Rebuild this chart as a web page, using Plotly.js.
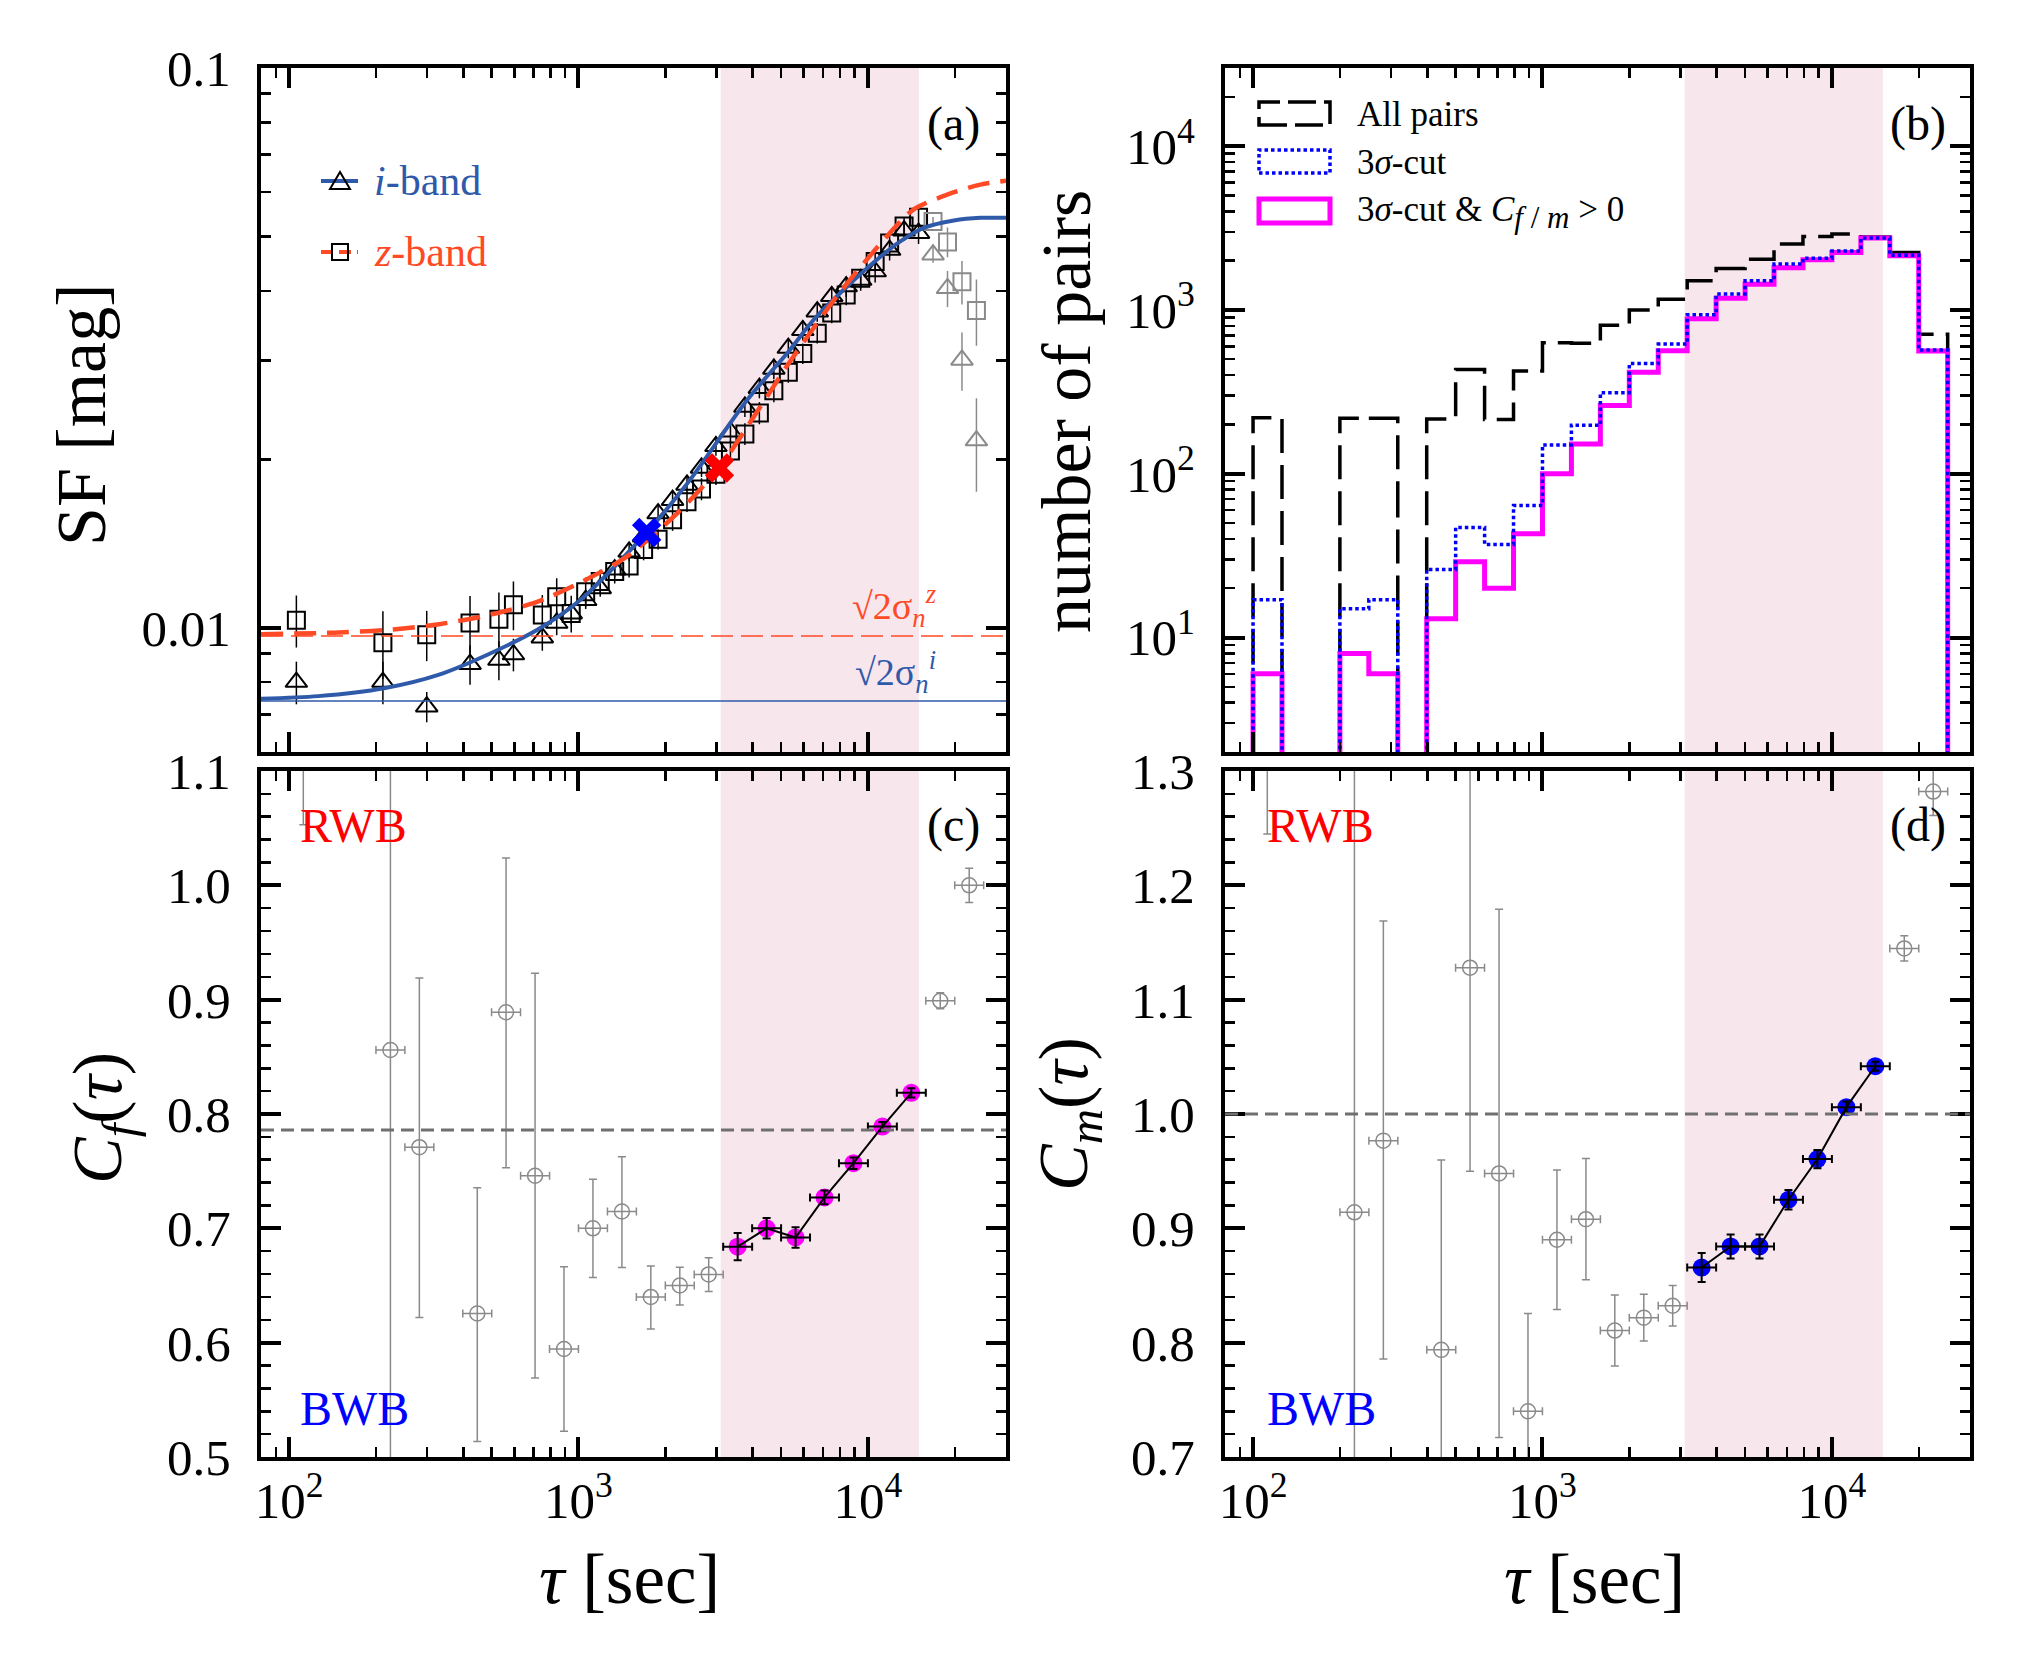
<!DOCTYPE html>
<html><head><meta charset="utf-8">
<script src="https://cdn.plot.ly/plotly-3.0.1.min.js"></script>
<style>body{margin:0;background:#fff}#chart{width:2020px;height:1670px}</style>
</head><body><div id="chart"></div>
<script>
// ================= DATA =================
// Panel (a): structure function
const sfTau = [106,211,299,422,531,596,750,841,944,1059,1189,1334,1496,1679,1884,2114,2371,2661,2985,3350,3758,4217,4732,5309,5957,6683,7499,8414,9441,10593,11885,13335,14962];
const sfI = [0.0080,0.0080,0.00723,0.00861,0.00876,0.00896,0.0096,0.0102,0.0106,0.0112,0.01176,0.0127,0.01367,0.01455,0.0160,0.0169,0.0180,0.0193,0.0211,0.0224,0.0248,0.0268,0.0290,0.0316,0.0340,0.0367,0.0391,0.0407,0.0418,0.0433,0.0473,0.0512,0.0507];
const sfIErr = [0.0007,0.0007,0.00045,0.0007,0.0007,0.0006,0.0005,0.0005,0.00045,0.0004,0.0004,0.0004,0.0005,0.0005,0.0005,0.0006,0.0006,0.0007,0.0008,0.0009,0.001,0.0011,0.0012,0.0013,0.0014,0.0015,0.0016,0.0017,0.0018,0.0019,0.002,0.0021,0.0022];
const sfZ = [0.01032,0.0094,0.00972,0.0102,0.01036,0.0110,0.01054,0.01136,0.01061,0.0116,0.0121,0.0126,0.0129,0.0138,0.0144,0.0156,0.0168,0.0177,0.0188,0.0207,0.0222,0.0242,0.0265,0.0286,0.0309,0.0336,0.0365,0.0393,0.0421,0.0451,0.0487,0.0522,0.0541];
const sfZErr = [0.0011,0.0013,0.0010,0.0012,0.0012,0.0011,0.0009,0.0009,0.0008,0.0007,0.0006,0.0006,0.0006,0.0006,0.0006,0.0007,0.0007,0.0008,0.0008,0.0009,0.0010,0.0011,0.0012,0.0012,0.0013,0.0014,0.0015,0.0016,0.0017,0.0018,0.0019,0.0020,0.0021];
const sfTauOut = [16788,18836,21135,23714];
const sfIOut = [0.0464,0.0404,0.0301,0.0216];
const sfIOutErr = [0.0015,0.003,0.0036,0.0041];
const sfZOut = [0.0532,0.0489,0.0415,0.0369];
const sfZOutErr = [0.001,0.003,0.0037,0.005];
const modelTauI = [80,126,213,330,491,731,1012,1714,2415,3819,5358,6494,8472,11041,12942,15596,19815,24491,30000];
const modelSFI = [0.00747,0.00755,0.0078,0.00825,0.00898,0.00996,0.0112,0.01478,0.0183,0.0255,0.0313,0.0355,0.0407,0.0460,0.0490,0.0518,0.0534,0.0540,0.0540];
const modelTauZ = [80,149,222,330,491,731,1089,1469,2188,3055,4246,5358,7962,11858,14322,18793,24491,30000];
const modelSFZ = [0.00974,0.00981,0.00992,0.01015,0.01054,0.01116,0.01227,0.0134,0.0160,0.0193,0.0248,0.0298,0.0396,0.0506,0.0558,0.0594,0.0619,0.0629];
const noiseSFI = 0.0074;
const noiseSFZ = 0.00967;
const crossTauI = [1720], crossSFI = [0.0148];
const crossTauZ = [3070], crossSFZ = [0.0193];
const shadeTau = [3100, 15000];

// Panel (b): histogram of pairs (bin centres in log10 tau, 0.1 dex bins)
const histLogCenters = [2.05,2.15,2.25,2.35,2.45,2.55,2.65,2.75,2.85,2.95,3.05,3.15,3.25,3.35,3.45,3.55,3.65,3.75,3.85,3.95,4.05,4.15,4.25,4.35];
const histAll    = [220,null,null,218,218,null,216,433,214,424,631,625,805,1000,1162,1505,1791,2042,2523,2812,2905,2790,2244,710];
const histCut    = [17,null,null,15,17,null,26,47,37,64,150,198,312,471,619,936,1253,1505,1905,2070,2286,2748,2160,569];
const histCutPos = [6,null,null,8,6,null,13,29,20,43,100,152,261,417,563,885,1179,1436,1808,2023,2244,2748,2143,561];
const histBinHalfDex = 0.05;

// Panels (c),(d): colour-variability indices
const cTauGray = [112,224,282,447,562,708,891,1122,1413,1778,2239,2818,17783,22387];
const cTauSel  = [3548,4467,5623,7079,8913,11220,14125];
const cfGray = [1.25,0.856,0.771,0.6255,0.889,0.746,0.5945,0.700,0.7147,0.640,0.650,0.6597,0.899,1.000];
const cfGrayErrP = [0.2,0.5,0.148,0.11,0.135,0.177,0.072,0.043,0.048,0.027,0.016,0.0145,0.007,0.015];
const cfGrayErrM = [0.197,0.5,0.149,0.112,0.136,0.177,0.072,0.043,0.049,0.028,0.017,0.015,0.007,0.015];
const cfSel = [0.684,0.700,0.692,0.727,0.757,0.789,0.8185];
const cfSelErr = [0.012,0.009,0.009,0.006,0.005,0.004,0.004];
const cmGray = [1.45,0.914,0.9767,0.7937,1.128,0.948,0.740,0.890,0.908,0.8106,0.8219,0.8323,1.1448,1.282];
const cmGrayErrP = [0.2,0.6,0.192,0.166,0.18,0.231,0.0855,0.061,0.053,0.031,0.0205,0.0177,0.011,0.021];
const cmGrayErrM = [0.205,0.6,0.191,0.166,0.178,0.231,0.0855,0.061,0.053,0.031,0.0205,0.0177,0.011,0.021];
const cmSel = [0.8657,0.8842,0.8842,0.925,0.9606,1.006,1.0418];
const cmSelErr = [0.0127,0.0105,0.0105,0.0085,0.008,0.005,0.004];
const cfMean = 0.786;
const cmMean = 1.0;
const cBinHalfDex = 0.05;

// tick labels
const xTickVals = [100,1000,10000];
const xTickText = ['10<sup>2</sup>','10<sup>3</sup>','10<sup>4</sup>'];
const xMinor = [90,200,300,400,500,600,700,800,900,2000,3000,4000,5000,6000,7000,8000,9000,20000];
const sfTickVals = [0.01,0.1];
const sfTickText = ['0.01','0.1'];
const sfMinor = [0.007,0.008,0.009,0.02,0.03,0.04,0.05,0.06,0.07,0.08,0.09];
const nTickVals = [10,100,1000,10000];
const nTickText = ['10<sup>1</sup>','10<sup>2</sup>','10<sup>3</sup>','10<sup>4</sup>'];
const nMinor = [3,4,5,6,7,8,9,20,30,40,50,60,70,80,90,200,300,400,500,600,700,800,900,2000,3000,4000,5000,6000,7000,8000,9000,20000];

// ================= STYLE / LAYOUT =================
const W = 2020, H = 1670;
const FONT = 'Liberation Serif, Times New Roman, serif';
const BLUE = '#2f5aaa', RED = '#ff4a26', GRAY = '#8a8a8a', SHADE = '#f8e6ed';
const PX = x => x / W, PY = y => 1 - y / H;
const TICKFONT = 51;

const dom = {
  xa: [PX(261), PX(1006)], xb: [PX(1225), PX(1970)],
  yt: [PY(752), PY(68)], yb: [PY(1457), PY(771)]
};

function xAxis(domain, anchor, labels) {
  return {type:'log', domain, anchor, range:[Math.log10(80), Math.log10(30000)],
    tickmode:'array', tickvals:xTickVals, ticktext:xTickText, showticklabels:labels,
    ticks:'inside', ticklen:20, tickwidth:4, tickcolor:'#000',
    minor:{tickmode:'array', tickvals:xMinor, ticks:'inside', ticklen:10, tickwidth:2.5, tickcolor:'#000'},
    showline:true, linewidth:4, linecolor:'#000', mirror:'ticks', showgrid:false, zeroline:false,
    tickfont:{family:FONT, size:TICKFONT, color:'#000'}, ticklabelstandoff:-4};
}
function yBase(domain, anchor) {
  return {domain, anchor, ticks:'inside', ticklen:20, tickwidth:4, tickcolor:'#000',
    showline:true, linewidth:4, linecolor:'#000', mirror:'ticks', showgrid:false, zeroline:false,
    tickfont:{family:FONT, size:TICKFONT, color:'#000'}, ticklabelstandoff:16};
}

// step-histogram builder
function steps(centers, counts, half, floor) {
  const xs = [], ys = [];
  let i = 0;
  while (i < counts.length) {
    if (counts[i] == null) { i++; continue; }
    let j = i; while (j < counts.length && counts[j] != null) j++;
    xs.push(Math.pow(10, centers[i] - half)); ys.push(floor);
    for (let k = i; k < j; k++) { xs.push(Math.pow(10, centers[k] - half)); ys.push(counts[k]); }
    xs.push(Math.pow(10, centers[j - 1] + half)); ys.push(floor);
    xs.push(null); ys.push(null);
    i = j;
  }
  return {xs, ys};
}
const errPlus = (xs, h) => xs.map(v => v * (Math.pow(10, h) - 1));
const errMinus = (xs, h) => xs.map(v => v * (1 - Math.pow(10, -h)));

const traces = [];
// ---- (a)
traces.push({x:sfTau, y:sfZ, xaxis:'x', yaxis:'y', mode:'markers', type:'scatter',
  marker:{symbol:'square-open', size:17, color:'#000', line:{width:2, color:'#000'}},
  error_y:{type:'data', array:sfZErr, color:'#000', thickness:1.5, width:0}});
traces.push({x:sfTau, y:sfI, xaxis:'x', yaxis:'y', mode:'markers', type:'scatter',
  marker:{symbol:'triangle-up-open', size:19, color:'#000', line:{width:2, color:'#000'}},
  error_y:{type:'data', array:sfIErr, color:'#000', thickness:1.5, width:0}});
traces.push({x:sfTauOut, y:sfZOut, xaxis:'x', yaxis:'y', mode:'markers', type:'scatter',
  marker:{symbol:'square-open', size:17, color:GRAY, line:{width:2, color:GRAY}},
  error_y:{type:'data', array:sfZOutErr, color:GRAY, thickness:1.5, width:0}});
traces.push({x:sfTauOut, y:sfIOut, xaxis:'x', yaxis:'y', mode:'markers', type:'scatter',
  marker:{symbol:'triangle-up-open', size:19, color:GRAY, line:{width:2, color:GRAY}},
  error_y:{type:'data', array:sfIOutErr, color:GRAY, thickness:1.5, width:0}});
traces.push({x:modelTauI, y:modelSFI, xaxis:'x', yaxis:'y', mode:'lines', type:'scatter',
  line:{color:BLUE, width:4, shape:'spline', smoothing:0.8}});
traces.push({x:modelTauZ, y:modelSFZ, xaxis:'x', yaxis:'y', mode:'lines', type:'scatter',
  line:{color:RED, width:4.5, shape:'spline', smoothing:0.8, dash:'22px,11px'}});
traces.push({x:crossTauI, y:crossSFI, xaxis:'x', yaxis:'y', mode:'markers', type:'scatter',
  marker:{symbol:'x', size:26, color:'#0000ff'}});
traces.push({x:crossTauZ, y:crossSFZ, xaxis:'x', yaxis:'y', mode:'markers', type:'scatter',
  marker:{symbol:'x', size:26, color:'#ff0000'}});

// ---- (b)
const sAll = steps(histLogCenters, histAll, histBinHalfDex, 1);
const sCut = steps(histLogCenters, histCut, histBinHalfDex, 1);
const sPos = steps(histLogCenters, histCutPos, histBinHalfDex, 1);
traces.push({x:sAll.xs, y:sAll.ys, xaxis:'x2', yaxis:'y2', mode:'lines', type:'scatter',
  line:{shape:'hv', color:'#000', width:3.5, dash:'34px,12px'}, connectgaps:false});
traces.push({x:sPos.xs, y:sPos.ys, xaxis:'x2', yaxis:'y2', mode:'lines', type:'scatter',
  line:{shape:'hv', color:'#ff00ff', width:5}, connectgaps:false});
traces.push({x:sCut.xs, y:sCut.ys, xaxis:'x2', yaxis:'y2', mode:'lines', type:'scatter',
  line:{shape:'hv', color:'#0000ff', width:3.5, dash:'3.5px,3px'}, connectgaps:false});

// ---- (c),(d)
function cPanel(xa, ya, gy, gp, gm, sy, se, col) {
  traces.push({x:cTauGray, y:gy, xaxis:xa, yaxis:ya, mode:'markers', type:'scatter',
    marker:{symbol:'circle-open', size:15, color:GRAY, line:{width:1.5, color:GRAY}},
    error_y:{type:'data', array:gp, arrayminus:gm, color:GRAY, thickness:1.5, width:4},
    error_x:{type:'data', array:errPlus(cTauGray, cBinHalfDex), arrayminus:errMinus(cTauGray, cBinHalfDex), color:GRAY, thickness:1.5, width:4}});
  traces.push({x:cTauSel, y:sy, xaxis:xa, yaxis:ya, mode:'markers', type:'scatter',
    marker:{symbol:'circle', size:18, color:col}});
  traces.push({x:cTauSel, y:sy, xaxis:xa, yaxis:ya, mode:'lines', type:'scatter',
    line:{color:'#000', width:2},
    error_y:{type:'data', array:se, color:'#000', thickness:2, width:4},
    error_x:{type:'data', array:errPlus(cTauSel, cBinHalfDex), arrayminus:errMinus(cTauSel, cBinHalfDex), color:'#000', thickness:2, width:4}});
}
cPanel('x3','y3', cfGray, cfGrayErrP, cfGrayErrM, cfSel, cfSelErr, '#ff00ff');
cPanel('x4','y4', cmGray, cmGrayErrP, cmGrayErrM, cmSel, cmSelErr, '#0000ff');

// ---- shapes
const shapes = [];
[['x','y'],['x2','y2'],['x3','y3'],['x4','y4']].forEach(([xa,ya]) => {
  shapes.push({type:'rect', xref:xa, yref:ya+' domain', x0:shadeTau[0], x1:shadeTau[1], y0:0, y1:1,
    fillcolor:SHADE, line:{width:0}, layer:'below'});
});
shapes.push({type:'line', xref:'x domain', yref:'y', x0:0, x1:1, y0:noiseSFZ, y1:noiseSFZ, line:{color:RED, width:1.6, dash:'22px,8px'}});
shapes.push({type:'line', xref:'x domain', yref:'y', x0:0, x1:1, y0:noiseSFI, y1:noiseSFI, line:{color:BLUE, width:1.6}});
shapes.push({type:'line', xref:'x3 domain', yref:'y3', x0:0, x1:1, y0:cfMean, y1:cfMean, line:{color:'#707070', width:3, dash:'13px,7px'}});
shapes.push({type:'line', xref:'x4 domain', yref:'y4', x0:0, x1:1, y0:cmMean, y1:cmMean, line:{color:'#707070', width:3, dash:'13px,7px'}});

// legend (a) symbols
shapes.push({type:'line', xref:'paper', yref:'paper', x0:PX(321), x1:PX(358), y0:PY(181), y1:PY(181), line:{color:BLUE, width:4}});
shapes.push({type:'path', xref:'paper', yref:'paper',
  path:`M${PX(330)},${PY(189)} L${PX(350)},${PY(189)} L${PX(340)},${PY(172)} Z`, line:{color:'#000', width:2}});
shapes.push({type:'line', xref:'paper', yref:'paper', x0:PX(321), x1:PX(358), y0:PY(252), y1:PY(252), line:{color:RED, width:4, dash:'12px,6px'}});
shapes.push({type:'rect', xref:'paper', yref:'paper', x0:PX(332), x1:PX(348), y0:PY(260), y1:PY(244), line:{color:'#000', width:2}, fillcolor:'rgba(0,0,0,0)'});
// legend (b) boxes
shapes.push({type:'rect', xref:'paper', yref:'paper', x0:PX(1259), x1:PX(1330), y0:PY(125), y1:PY(102), line:{color:'#000', width:3.5, dash:'28px,8px'}});
shapes.push({type:'rect', xref:'paper', yref:'paper', x0:PX(1259), x1:PX(1330), y0:PY(173), y1:PY(150), line:{color:'#0000ff', width:3.5, dash:'3.5px,3px'}});
shapes.push({type:'rect', xref:'paper', yref:'paper', x0:PX(1259), x1:PX(1330), y0:PY(223), y1:PY(199), line:{color:'#ff00ff', width:5}});

// ---- annotations
const ann = [];
function A(text, x, y, size, opts) {
  ann.push(Object.assign({text, xref:'paper', yref:'paper', x:PX(x), y:PY(y), showarrow:false,
    xanchor:'center', yanchor:'middle', font:{family:FONT, size, color:'#000'}}, opts || {}));
}
A('SF [mag]', 81, 415, 70, {textangle:-90});
A('number of pairs', 1067, 412, 70, {textangle:-90});
A('<i>C<sub>f</sub></i>(<i>τ</i>)', 103, 1118, 70, {textangle:-90});
A('<i>C<sub>m</sub></i>(<i>τ</i>)', 1069, 1114, 70, {textangle:-90});
A('<i>τ</i> [sec]', 629, 1579, 71);
A('<i>τ</i> [sec]', 1594, 1579, 71);
A('(a)', 982, 124, 48, {xanchor:'right'});
A('(b)', 1948, 124, 48, {xanchor:'right'});
A('(c)', 982, 825, 48, {xanchor:'right'});
A('(d)', 1948, 825, 48, {xanchor:'right'});
A('RWB', 298, 825, 48, {xanchor:'left', font:{family:FONT, size:48, color:'#ff0000'}});
A('BWB', 298, 1408, 48, {xanchor:'left', font:{family:FONT, size:48, color:'#0000ff'}});
A('RWB', 1265, 825, 48, {xanchor:'left', font:{family:FONT, size:48, color:'#ff0000'}});
A('BWB', 1265, 1408, 48, {xanchor:'left', font:{family:FONT, size:48, color:'#0000ff'}});
A('<i>i</i>-band', 372, 181, 42, {xanchor:'left', font:{family:FONT, size:42, color:BLUE}});
A('<i>z</i>-band', 372, 252, 42, {xanchor:'left', font:{family:FONT, size:42, color:RED}});
A('All pairs', 1355, 114, 35, {xanchor:'left'});
A('3<i>σ</i>-cut', 1355, 162, 35, {xanchor:'left'});
A('3<i>σ</i>-cut &amp; <i>C</i><sub><span style="font-size:31px"><i>f</i> / <i>m</i></span></sub> &gt; 0', 1355, 212, 35, {xanchor:'left'});
// noise labels
A('√2σ<sub><i>n</i></sub><sup><i>z</i></sup>', 938, 606, 38, {xanchor:'right', font:{family:FONT, size:38, color:RED}});
A('√2σ<sub><i>n</i></sub><sup><i>i</i></sup>', 938, 672, 38, {xanchor:'right', font:{family:FONT, size:38, color:BLUE}});

const yA = Object.assign(yBase(dom.yt, 'x'), {type:'log', range:[Math.log10(0.006), -1],
  tickmode:'array', tickvals:sfTickVals, ticktext:sfTickText,
  minor:{tickmode:'array', tickvals:sfMinor, ticks:'inside', ticklen:10, tickwidth:2.5, tickcolor:'#000'}});
const yB = Object.assign(yBase(dom.yt, 'x2'), {type:'log', range:[Math.log10(2), Math.log10(30000)],
  tickmode:'array', tickvals:nTickVals, ticktext:nTickText,
  minor:{tickmode:'array', tickvals:nMinor, ticks:'inside', ticklen:10, tickwidth:2.5, tickcolor:'#000'}});
const yC = Object.assign(yBase(dom.yb, 'x3'), {type:'linear', range:[0.5, 1.1], tick0:0.5, dtick:0.1, tickformat:'.1f',
  minor:{dtick:0.02, ticks:'inside', ticklen:10, tickwidth:2.5, tickcolor:'#000'}});
const yD = Object.assign(yBase(dom.yb, 'x4'), {type:'linear', range:[0.7, 1.3], tick0:0.7, dtick:0.1, tickformat:'.1f',
  minor:{dtick:0.02, ticks:'inside', ticklen:10, tickwidth:2.5, tickcolor:'#000'}});

const layout = {
  width:W, height:H, margin:{l:0, r:0, t:0, b:0}, paper_bgcolor:'#fff', plot_bgcolor:'#fff',
  showlegend:false, font:{family:FONT, color:'#000'},
  xaxis: xAxis(dom.xa, 'y', false), yaxis: yA,
  xaxis2: xAxis(dom.xb, 'y2', false), yaxis2: yB,
  xaxis3: xAxis(dom.xa, 'y3', true), yaxis3: yC,
  xaxis4: xAxis(dom.xb, 'y4', true), yaxis4: yD,
  shapes, annotations: ann
};
Plotly.newPlot('chart', traces, layout, {staticPlot:true});
</script></body></html>
